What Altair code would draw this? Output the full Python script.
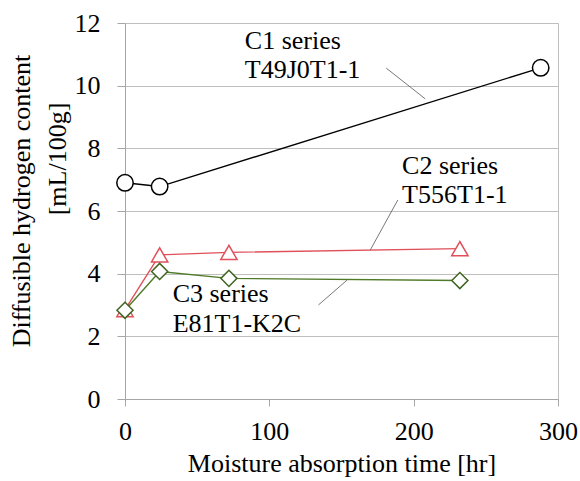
import altair as alt
import pandas as pd

# ---- data ----
series_names = ["C1", "C2", "C3"]
c1_time = [0, 24, 288]
c1_h = [6.9, 6.78, 10.57]
c2_time = [0, 24, 72, 232]
c2_h = [2.85, 4.6, 4.68, 4.8]
c3_time = [0, 24, 72, 232]
c3_h = [2.83, 4.07, 3.85, 3.78]

ann_text = ["C1 series", "T49J0T1-1", "C2 series", "T556T1-1", "C3 series", "E81T1-K2C"]
ann_x = [83, 83, 192, 192, 33, 33]
ann_y = [11.43, 10.5, 7.44, 6.5, 3.35, 2.39]

lead_x1 = [181, 189, 154]
lead_y1 = [10.56, 6.35, 3.8]
lead_x2 = [208, 170, 134]
lead_y2 = [9.58, 4.76, 3.0]

colors_line = ["#000000", "#e0505a", "#4f7a28"]
colors_pt = ["#000000", "#e0505a", "#3f6420"]
shapes = ["circle", "triangle-up", "diamond"]

rows = []
for name, xs, ys in zip(series_names, [c1_time, c2_time, c3_time], [c1_h, c2_h, c3_h]):
    for x, y in zip(xs, ys):
        rows.append({"series": name, "t": x, "h": y})
df = pd.DataFrame(rows)
ann = pd.DataFrame({"text": ann_text, "x": ann_x, "y": ann_y})
lead = pd.DataFrame({"x": lead_x1, "y": lead_y1, "x2": lead_x2, "y2": lead_y2})

FONT = "Times New Roman, Liberation Serif, serif"

xs = alt.Scale(domain=[0, 300], nice=False)
ys = alt.Scale(domain=[0, 12], nice=False)

x_enc = alt.X("t:Q", scale=xs, axis=alt.Axis(
    values=[0, 100, 200, 300], grid=False, title="Moisture absorption time [hr]",
    tickSize=7, labelPadding=12, titlePadding=6, labelFlush=False,
    domainColor="#a6a6a6", tickColor="#a6a6a6",
    labelFont=FONT, titleFont=FONT, labelFontSize=26, titleFontSize=26,
    labelColor="#000000", titleColor="#000000", titleFontWeight="normal"))
y_enc = alt.Y("h:Q", scale=ys, axis=alt.Axis(
    values=[0, 2, 4, 6, 8, 10, 12], grid=True, gridColor="#bfbfbf", title=None,
    tickSize=8, labelPadding=17, labelFlush=False,
    domainColor="#a6a6a6", tickColor="#a6a6a6",
    labelFont=FONT, labelFontSize=26, labelColor="#000000"))

lines = alt.Chart(df).mark_line(strokeWidth=1.4).encode(
    x=x_enc, y=y_enc,
    color=alt.Color("series:N", scale=alt.Scale(domain=series_names, range=colors_line), legend=None),
    detail="series:N",
)

points = alt.Chart(df).mark_point(fill="white", fillOpacity=1, strokeWidth=1.5, opacity=1).encode(
    x="t:Q", y="h:Q",
    stroke=alt.Stroke("series:N", scale=alt.Scale(domain=series_names, range=colors_pt), legend=None),
    shape=alt.Shape("series:N", scale=alt.Scale(domain=series_names, range=shapes), legend=None),
    size=alt.Size("series:N", scale=alt.Scale(domain=series_names, range=[270, 260, 300]), legend=None),
    order=alt.Order("series:N"),
)

leaders = alt.Chart(lead).mark_rule(color="#555555", strokeWidth=0.8).encode(
    x="x:Q", y="y:Q", x2="x2:Q", y2="y2:Q")

texts = alt.Chart(ann).mark_text(font=FONT, fontSize=26, align="left", baseline="middle", color="#000000").encode(
    x="x:Q", y="y:Q", text="text:N")

ytitle_text = ["Diffusible hydrogen content", "[mL/100g]"]
ytitle_px = [-103, -67]
ytitle_py = [178, 136]
yt = pd.DataFrame({"text": ytitle_text, "px": ytitle_px, "py": ytitle_py})
ytitle = alt.Chart(yt).mark_text(font=FONT, fontSize=26, angle=270, align="center", baseline="middle").encode(
    x=alt.X("px:Q", scale=None), y=alt.Y("py:Q", scale=None), text="text:N")

chart = alt.layer(lines, leaders, points, texts, ytitle).properties(
    width=433, height=376,
    background="white",
    autosize=alt.AutoSizeParams(type="none"),
    padding={"left": 125, "top": 23, "right": 22, "bottom": 82},
).configure_view(stroke="#bfbfbf")

chart.save("out.html", embed_options={"renderer": "svg", "actions": False})
